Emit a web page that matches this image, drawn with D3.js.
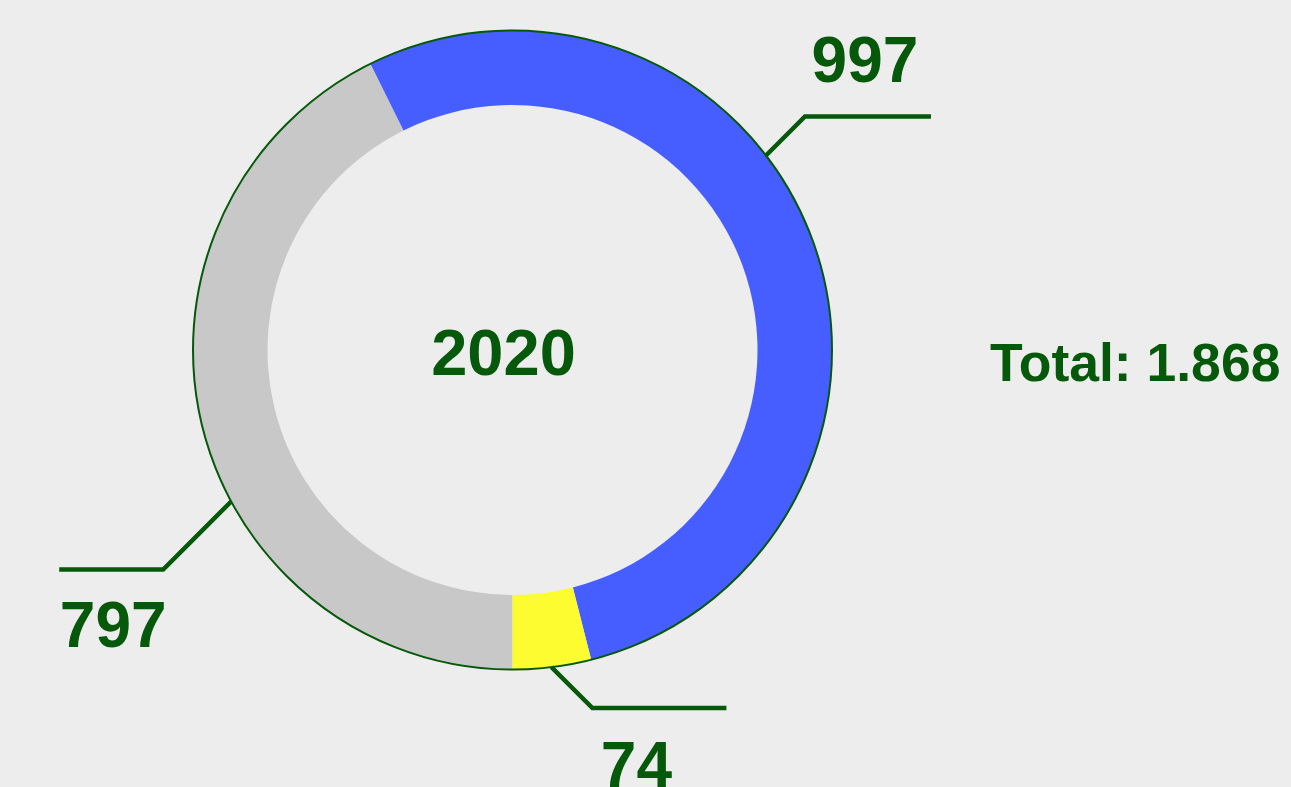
<!DOCTYPE html>
<html>
<head>
<meta charset="utf-8">
<script src="https://cdn.jsdelivr.net/npm/d3@7"></script>
<style>
  html, body { margin: 0; padding: 0; background: #ededed; }
  svg { display: block; }
</style>
</head>
<body>
<svg id="chart" width="1291" height="787"></svg>
<script>
// Slices, drawn clockwise starting at 6 o'clock
const sliceKeys = ["grey", "blue", "yellow"];
const sliceValues = [797, 997, 74];
const sliceColors = ["#c8c8c8", "#465eff", "#fcfc30"];
const yearLabel = "2020";

// Leader line geometry for each slice (degrees clockwise from 12 o'clock,
// horizontal direction of the line, diagonal run, arm length, label offset)
const leaderLayout = {
  grey:   { angle: 241.7, dir: -1, vdir: 1,  diag: 68, arm: 104, tx: -50, ty: 78 },
  blue:   { angle: 52.5,  dir: 1,  vdir: -1, diag: 39, arm: 126, tx: 60,  ty: -35 },
  yellow: { angle: 173,   dir: 1,  vdir: 1,  diag: 41, arm: 134, tx: 44,  ty: 79 }
};

const green = "#06590a";
const font = "'Liberation Sans', Arial, Helvetica, sans-serif";

const svg = d3.select("#chart");
const cx = 512.5, cy = 350;
const outerR = 319.5, innerR = 245;

const data = sliceKeys.map((k, i) => ({ key: k, value: sliceValues[i], color: sliceColors[i] }));

const pie = d3.pie()
  .sort(null)
  .value(d => d.value)
  .startAngle(Math.PI)
  .endAngle(3 * Math.PI);

const arc = d3.arc().innerRadius(innerR).outerRadius(outerR);

const g = svg.append("g").attr("transform", `translate(${cx},${cy})`);

g.selectAll("path.slice")
  .data(pie(data))
  .join("path")
  .attr("class", "slice")
  .attr("d", arc)
  .attr("fill", d => d.data.color);

// thin outline along the outer edge of the ring
g.append("circle")
  .attr("r", outerR)
  .attr("fill", "none")
  .attr("stroke", green)
  .attr("stroke-width", 2);

// leader lines and value labels
pie(data).forEach(d => {
  const L = leaderLayout[d.data.key];
  const a = L.angle * Math.PI / 180;
  const x0 = outerR * Math.sin(a), y0 = -outerR * Math.cos(a);
  const x1 = x0 + L.dir * L.diag, y1 = y0 + L.vdir * L.diag;
  const x2 = x1 + L.dir * L.arm;
  g.append("polyline")
    .attr("points", [[x0, y0], [x1, y1], [x2, y1]].map(p => p.join(",")).join(" "))
    .attr("fill", "none")
    .attr("stroke", green)
    .attr("stroke-width", 4.5)
    .attr("stroke-linejoin", "miter");
  g.append("text")
    .attr("x", x1 + L.tx)
    .attr("y", y1 + L.ty)
    .attr("text-anchor", "middle")
    .attr("font-family", font)
    .attr("font-weight", "bold")
    .attr("font-size", 64)
    .attr("fill", green)
    .text(d.data.value);
});

// year in the centre
g.append("text")
  .attr("x", -9)
  .attr("y", 25)
  .attr("text-anchor", "middle")
  .attr("font-family", font)
  .attr("font-weight", "bold")
  .attr("font-size", 65)
  .attr("fill", green)
  .text(yearLabel);

// total with German thousands separator
const de = d3.formatLocale({ decimal: ",", thousands: ".", grouping: [3], currency: ["", " €"] });
const total = d3.sum(sliceValues);
svg.append("text")
  .attr("x", 990)
  .attr("y", 381)
  .attr("text-anchor", "start")
  .attr("font-family", font)
  .attr("font-weight", "bold")
  .attr("font-size", 53.5)
  .attr("fill", green)
  .text("Total: " + de.format(",")(total));
</script>
</body>
</html>
